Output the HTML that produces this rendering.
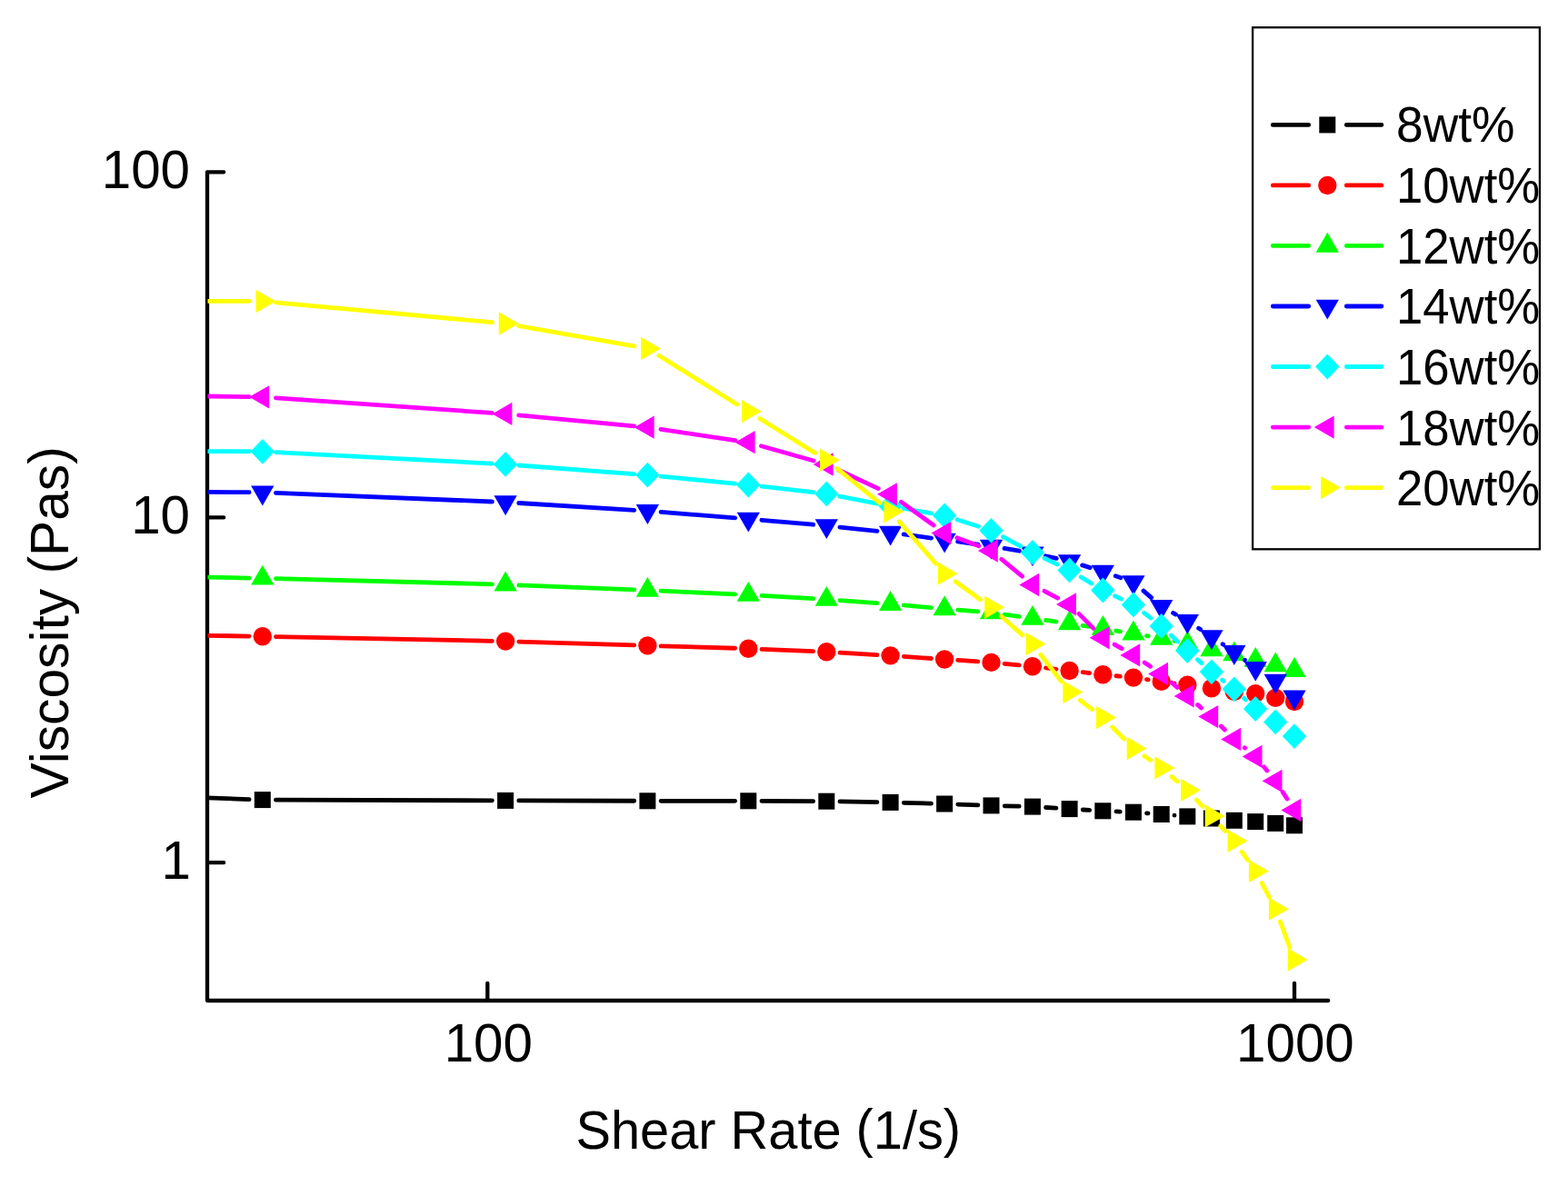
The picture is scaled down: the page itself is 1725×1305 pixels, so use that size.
<!DOCTYPE html>
<html><head><meta charset="utf-8"><title>Viscosity vs Shear Rate</title>
<style>html,body{margin:0;padding:0;background:#fff;}body{width:1725px;height:1305px;overflow:hidden;}svg{display:block;}</style>
</head><body>
<svg width="1725" height="1305" viewBox="0 0 1725 1305">
<rect width="1725" height="1305" fill="#fff"/>
<defs><clipPath id="pc"><rect x="228.5" y="0" width="1500" height="1101"/></clipPath></defs>
<path d="M246.2 189.3L228 189.3L228 1101L1461.2 1101M228 569.4L246.2 569.4M228 949.2L246.2 949.2M536.3 1101L536.3 1081.8M1424 1101L1424 1081.8" fill="none" stroke="#000" stroke-width="4.3" stroke-linecap="round" stroke-linejoin="round"/>
<g clip-path="url(#pc)">
<path d="M188 876.29L274.11 879.54M303.5 880.14L541.4 880.86M570.8 880.94L697.7 881.26M727.1 881.3L808.6 881.3M838 881.37L894.6 881.63M924 881.95L964.9 882.65M994.29 883.3L1024.41 884.1M1053.79 885.04L1075.81 885.86M1105.19 886.79L1121.21 887.21M1150.57 888.5L1161.93 889.2M1191.27 890.98L1198.63 891.42M1227.99 892.91L1232.21 893.09M1261.56 894.79L1263.04 894.91M1292 897.2L1292 897.2" fill="none" stroke="#000000" stroke-width="4.8" stroke-linecap="round"/>
<rect x="279.8" y="871.1" width="18" height="18" fill="#000000"/>
<rect x="547.1" y="871.9" width="18" height="18" fill="#000000"/>
<rect x="703.4" y="872.3" width="18" height="18" fill="#000000"/>
<rect x="814.3" y="872.3" width="18" height="18" fill="#000000"/>
<rect x="900.3" y="872.7" width="18" height="18" fill="#000000"/>
<rect x="970.6" y="873.9" width="18" height="18" fill="#000000"/>
<rect x="1030.1" y="875.5" width="18" height="18" fill="#000000"/>
<rect x="1081.5" y="877.4" width="18" height="18" fill="#000000"/>
<rect x="1126.9" y="878.6" width="18" height="18" fill="#000000"/>
<rect x="1167.6" y="881.1" width="18" height="18" fill="#000000"/>
<rect x="1204.3" y="883.3" width="18" height="18" fill="#000000"/>
<rect x="1237.9" y="884.7" width="18" height="18" fill="#000000"/>
<rect x="1268.7" y="887" width="18" height="18" fill="#000000"/>
<rect x="1297.3" y="889.4" width="18" height="18" fill="#000000"/>
<rect x="1323.9" y="891.5" width="18" height="18" fill="#000000"/>
<rect x="1348.8" y="893.8" width="18" height="18" fill="#000000"/>
<rect x="1372.2" y="895.1" width="18" height="18" fill="#000000"/>
<rect x="1394.2" y="896.9" width="18" height="18" fill="#000000"/>
<rect x="1415" y="899.3" width="18" height="18" fill="#000000"/>
<path d="M188 698.64L274.1 700.06M303.5 700.59L541.4 705.31M570.79 706.05L697.71 709.95M727.09 710.84L808.61 713.26M837.99 714.31L894.61 716.69M923.98 718.16L964.92 720.54M994.27 722.41L1024.43 724.49M1053.77 726.47L1075.83 727.93M1105.13 730.29L1121.27 731.81M1150.5 734.92L1162 736.28M1191.2 739.71L1198.7 740.59M1227.93 743.74L1232.27 744.16M1261.46 747.63L1263.14 747.87M1292 751.8L1292 751.8" fill="none" stroke="#ff0000" stroke-width="4.8" stroke-linecap="round"/>
<circle cx="288.8" cy="700.3" r="10.2" fill="#ff0000"/>
<circle cx="556.1" cy="705.6" r="10.2" fill="#ff0000"/>
<circle cx="712.4" cy="710.4" r="10.2" fill="#ff0000"/>
<circle cx="823.3" cy="713.7" r="10.2" fill="#ff0000"/>
<circle cx="909.3" cy="717.3" r="10.2" fill="#ff0000"/>
<circle cx="979.6" cy="721.4" r="10.2" fill="#ff0000"/>
<circle cx="1039.1" cy="725.5" r="10.2" fill="#ff0000"/>
<circle cx="1090.5" cy="728.9" r="10.2" fill="#ff0000"/>
<circle cx="1135.9" cy="733.2" r="10.2" fill="#ff0000"/>
<circle cx="1176.6" cy="738" r="10.2" fill="#ff0000"/>
<circle cx="1213.3" cy="742.3" r="10.2" fill="#ff0000"/>
<circle cx="1246.9" cy="745.6" r="10.2" fill="#ff0000"/>
<circle cx="1277.7" cy="749.9" r="10.2" fill="#ff0000"/>
<circle cx="1306.3" cy="753.7" r="10.2" fill="#ff0000"/>
<circle cx="1332.9" cy="757.2" r="10.2" fill="#ff0000"/>
<circle cx="1357.8" cy="761" r="10.2" fill="#ff0000"/>
<circle cx="1381.2" cy="763.1" r="10.2" fill="#ff0000"/>
<circle cx="1403.2" cy="767.9" r="10.2" fill="#ff0000"/>
<circle cx="1424" cy="772" r="10.2" fill="#ff0000"/>
<path d="M188 634.48L274.1 636.03M303.5 636.68L541.4 642.82M570.79 643.79L697.71 648.91M727.09 650.16L808.61 653.84M837.98 655.35L894.62 658.65M923.96 660.58L964.94 663.62M994.24 665.98L1024.46 668.62M1053.75 671.07L1075.85 672.83M1105.05 676.08L1121.35 678.42M1150.47 682.47L1162.03 684.03M1191.13 688.26L1198.77 689.44M1227.81 694.03L1232.39 694.77M1261.39 699.59L1263.21 699.91M1292 705.45L1292 705.45" fill="none" stroke="#00ff00" stroke-width="4.8" stroke-linecap="round"/>
<polygon points="288.8,621.7 301.44,643.6 276.16,643.6" fill="#00ff00"/>
<polygon points="556.1,628.6 568.74,650.5 543.46,650.5" fill="#00ff00"/>
<polygon points="712.4,634.9 725.04,656.8 699.76,656.8" fill="#00ff00"/>
<polygon points="823.3,639.9 835.94,661.8 810.66,661.8" fill="#00ff00"/>
<polygon points="909.3,644.9 921.94,666.8 896.66,666.8" fill="#00ff00"/>
<polygon points="979.6,650.1 992.24,672 966.96,672" fill="#00ff00"/>
<polygon points="1039.1,655.3 1051.74,677.2 1026.46,677.2" fill="#00ff00"/>
<polygon points="1090.5,659.4 1103.14,681.3 1077.86,681.3" fill="#00ff00"/>
<polygon points="1135.9,665.9 1148.54,687.8 1123.26,687.8" fill="#00ff00"/>
<polygon points="1176.6,671.4 1189.24,693.3 1163.96,693.3" fill="#00ff00"/>
<polygon points="1213.3,677.1 1225.94,699 1200.66,699" fill="#00ff00"/>
<polygon points="1246.9,682.5 1259.54,704.4 1234.26,704.4" fill="#00ff00"/>
<polygon points="1277.7,687.8 1290.34,709.7 1265.06,709.7" fill="#00ff00"/>
<polygon points="1306.3,693.9 1318.94,715.8 1293.66,715.8" fill="#00ff00"/>
<polygon points="1332.9,700.4 1345.54,722.3 1320.26,722.3" fill="#00ff00"/>
<polygon points="1357.8,705.4 1370.44,727.3 1345.16,727.3" fill="#00ff00"/>
<polygon points="1381.2,711.9 1393.84,733.8 1368.56,733.8" fill="#00ff00"/>
<polygon points="1403.2,717.4 1415.84,739.3 1390.56,739.3" fill="#00ff00"/>
<polygon points="1424,723.1 1436.64,745 1411.36,745" fill="#00ff00"/>
<path d="M188 541.14L274.1 541.7M303.49 542.39L541.41 552.01M570.77 553.51L697.73 561.39M727.05 563.45L808.65 569.85M837.94 572.28L894.66 577.22M923.92 580.06L964.98 584.44M994.17 587.96L1024.53 592.04M1053.67 595.98L1075.93 599.02M1104.99 603.46L1121.41 606.24M1150.27 611.81L1162.23 614.39M1190.63 621.9L1199.27 624.6M1227.21 633.76L1232.99 635.74M1257.99 650.15L1266.61 657.65M1290.55 674.44L1293.45 676.06M1318.6 691.25L1320.6 692.55M1345.11 708.79L1345.59 709.11M1369.48 726.23L1369.52 726.27" fill="none" stroke="#0000ff" stroke-width="4.8" stroke-linecap="round"/>
<polygon points="288.8,556.4 301.44,534.5 276.16,534.5" fill="#0000ff"/>
<polygon points="556.1,567.2 568.74,545.3 543.46,545.3" fill="#0000ff"/>
<polygon points="712.4,576.9 725.04,555 699.76,555" fill="#0000ff"/>
<polygon points="823.3,585.6 835.94,563.7 810.66,563.7" fill="#0000ff"/>
<polygon points="909.3,593.1 921.94,571.2 896.66,571.2" fill="#0000ff"/>
<polygon points="979.6,600.6 992.24,578.7 966.96,578.7" fill="#0000ff"/>
<polygon points="1039.1,608.6 1051.74,586.7 1026.46,586.7" fill="#0000ff"/>
<polygon points="1090.5,615.6 1103.14,593.7 1077.86,593.7" fill="#0000ff"/>
<polygon points="1135.9,623.3 1148.54,601.4 1123.26,601.4" fill="#0000ff"/>
<polygon points="1176.6,632.1 1189.24,610.2 1163.96,610.2" fill="#0000ff"/>
<polygon points="1213.3,643.6 1225.94,621.7 1200.66,621.7" fill="#0000ff"/>
<polygon points="1246.9,655.1 1259.54,633.2 1234.26,633.2" fill="#0000ff"/>
<polygon points="1277.7,681.9 1290.34,660 1265.06,660" fill="#0000ff"/>
<polygon points="1306.3,697.8 1318.94,675.9 1293.66,675.9" fill="#0000ff"/>
<polygon points="1332.9,715.2 1345.54,693.3 1320.26,693.3" fill="#0000ff"/>
<polygon points="1357.8,731.9 1370.44,710 1345.16,710" fill="#0000ff"/>
<polygon points="1381.2,749.8 1393.84,727.9 1368.56,727.9" fill="#0000ff"/>
<polygon points="1403.2,763.7 1415.84,741.8 1390.56,741.8" fill="#0000ff"/>
<polygon points="1424,781.5 1436.64,759.6 1411.36,759.6" fill="#0000ff"/>
<path d="M188 496.47L274.1 496.75M303.48 497.57L541.42 510.13M570.76 512.01L697.74 521.59M727.03 524.12L808.67 532.08M837.9 535.18L894.7 541.72M923.73 546.19L965.17 554.21M994.08 559.51L1024.62 564.79M1053.1 571.79L1076.5 579.31M1103.48 590.69L1122.92 601.01M1149.16 614.25L1163.34 621.05M1189.19 634.98L1200.71 641.92M1226.59 655.79L1233.61 659.11M1258.57 674.34L1266.03 680.06M1288.37 699.11L1295.63 705.99M1317.38 725.76L1321.82 729.64M1344.59 748.22L1346.11 749.38M1368.58 768.3L1370.42 770" fill="none" stroke="#00ffff" stroke-width="4.8" stroke-linecap="round"/>
<polygon points="288.8,482.9 302,496.8 288.8,510.7 275.6,496.8" fill="#00ffff"/>
<polygon points="556.1,497 569.3,510.9 556.1,524.8 542.9,510.9" fill="#00ffff"/>
<polygon points="712.4,508.8 725.6,522.7 712.4,536.6 699.2,522.7" fill="#00ffff"/>
<polygon points="823.3,519.6 836.5,533.5 823.3,547.4 810.1,533.5" fill="#00ffff"/>
<polygon points="909.3,529.5 922.5,543.4 909.3,557.3 896.1,543.4" fill="#00ffff"/>
<polygon points="979.6,543.1 992.8,557 979.6,570.9 966.4,557" fill="#00ffff"/>
<polygon points="1039.1,553.4 1052.3,567.3 1039.1,581.2 1025.9,567.3" fill="#00ffff"/>
<polygon points="1090.5,569.9 1103.7,583.8 1090.5,597.7 1077.3,583.8" fill="#00ffff"/>
<polygon points="1135.9,594 1149.1,607.9 1135.9,621.8 1122.7,607.9" fill="#00ffff"/>
<polygon points="1176.6,613.5 1189.8,627.4 1176.6,641.3 1163.4,627.4" fill="#00ffff"/>
<polygon points="1213.3,635.6 1226.5,649.5 1213.3,663.4 1200.1,649.5" fill="#00ffff"/>
<polygon points="1246.9,651.5 1260.1,665.4 1246.9,679.3 1233.7,665.4" fill="#00ffff"/>
<polygon points="1277.7,675.1 1290.9,689 1277.7,702.9 1264.5,689" fill="#00ffff"/>
<polygon points="1306.3,702.2 1319.5,716.1 1306.3,730 1293.1,716.1" fill="#00ffff"/>
<polygon points="1332.9,725.4 1346.1,739.3 1332.9,753.2 1319.7,739.3" fill="#00ffff"/>
<polygon points="1357.8,744.4 1371,758.3 1357.8,772.2 1344.6,758.3" fill="#00ffff"/>
<polygon points="1381.2,766.1 1394.4,780 1381.2,793.9 1368,780" fill="#00ffff"/>
<polygon points="1403.2,780.5 1416.4,794.4 1403.2,808.3 1390,794.4" fill="#00ffff"/>
<polygon points="1424,796.2 1437.2,810.1 1424,824 1410.8,810.1" fill="#00ffff"/>
<path d="M188 435.47L274.1 436.61M303.46 437.82L541.44 454.38M570.73 456.79L697.77 468.81M726.94 472.36L808.76 484.54M837.45 490.7L895.15 507M922.62 517.22L966.28 537.58M991.53 552.38L1027.17 578.02M1052.85 591.79L1076.75 600.81M1101.83 615.36L1124.57 634.14M1148.91 650.34L1163.59 658.06M1186.97 675.32L1202.93 691.38M1226.08 709.06L1234.12 713.64M1259.12 729.07L1265.48 733.33M1288.88 751.04L1295.12 756.36M1317.48 775.44L1321.72 779.06M1343.32 798.97L1347.38 803.03M1369.21 822.67L1369.79 823.13M1390.51 843.78L1393.89 847.92M1411.19 871.64L1416.01 879.06" fill="none" stroke="#ff00ff" stroke-width="4.8" stroke-linecap="round"/>
<polygon points="274.2,436.8 296.1,424.16 296.1,449.44" fill="#ff00ff"/>
<polygon points="541.5,455.4 563.4,442.76 563.4,468.04" fill="#ff00ff"/>
<polygon points="697.8,470.2 719.7,457.56 719.7,482.84" fill="#ff00ff"/>
<polygon points="808.7,486.7 830.6,474.06 830.6,499.34" fill="#ff00ff"/>
<polygon points="894.7,511 916.6,498.36 916.6,523.64" fill="#ff00ff"/>
<polygon points="965,543.8 986.9,531.16 986.9,556.44" fill="#ff00ff"/>
<polygon points="1024.5,586.6 1046.4,573.96 1046.4,599.24" fill="#ff00ff"/>
<polygon points="1075.9,606 1097.8,593.36 1097.8,618.64" fill="#ff00ff"/>
<polygon points="1121.3,643.5 1143.2,630.86 1143.2,656.14" fill="#ff00ff"/>
<polygon points="1162,664.9 1183.9,652.26 1183.9,677.54" fill="#ff00ff"/>
<polygon points="1198.7,701.8 1220.6,689.16 1220.6,714.44" fill="#ff00ff"/>
<polygon points="1232.3,720.9 1254.2,708.26 1254.2,733.54" fill="#ff00ff"/>
<polygon points="1263.1,741.5 1285,728.86 1285,754.14" fill="#ff00ff"/>
<polygon points="1291.7,765.9 1313.6,753.26 1313.6,778.54" fill="#ff00ff"/>
<polygon points="1318.3,788.6 1340.2,775.96 1340.2,801.24" fill="#ff00ff"/>
<polygon points="1343.2,813.4 1365.1,800.76 1365.1,826.04" fill="#ff00ff"/>
<polygon points="1366.6,832.4 1388.5,819.76 1388.5,845.04" fill="#ff00ff"/>
<polygon points="1388.6,859.3 1410.5,846.66 1410.5,871.94" fill="#ff00ff"/>
<polygon points="1409.4,891.4 1431.3,878.76 1431.3,904.04" fill="#ff00ff"/>
<path d="M188 331.17L274.1 331.45M303.44 332.84L541.46 354.66M570.58 358.55L697.92 380.95M724.87 391.28L810.83 444.92M835.78 460.46L896.82 498.44M920.75 515.42L968.15 553.58M989.25 573.89L1029.45 620.11M1051.02 639.8L1078.58 659.7M1101.49 678.06L1124.91 698.84M1144.85 720.26L1167.65 749.94M1188.3 770.5L1201.6 780.6M1223.63 799.96L1236.57 813.04M1258.97 831.89L1265.63 836.51M1288.86 854.46L1295.14 859.84M1316.33 880.15L1322.87 887.15M1342.79 908.78L1347.91 914.42M1366.25 937.33L1372.75 946.57M1388.07 971.59L1396.33 987.21M1408.33 1013.97L1418.87 1042.23" fill="none" stroke="#ffff00" stroke-width="4.8" stroke-linecap="round"/>
<polygon points="303.4,331.5 281.5,318.86 281.5,344.14" fill="#ffff00"/>
<polygon points="570.7,356 548.8,343.36 548.8,368.64" fill="#ffff00"/>
<polygon points="727,383.5 705.1,370.86 705.1,396.14" fill="#ffff00"/>
<polygon points="837.9,452.7 816,440.06 816,465.34" fill="#ffff00"/>
<polygon points="923.9,506.2 902,493.56 902,518.84" fill="#ffff00"/>
<polygon points="994.2,562.8 972.3,550.16 972.3,575.44" fill="#ffff00"/>
<polygon points="1053.7,631.2 1031.8,618.56 1031.8,643.84" fill="#ffff00"/>
<polygon points="1105.1,668.3 1083.2,655.66 1083.2,680.94" fill="#ffff00"/>
<polygon points="1150.5,708.6 1128.6,695.96 1128.6,721.24" fill="#ffff00"/>
<polygon points="1191.2,761.6 1169.3,748.96 1169.3,774.24" fill="#ffff00"/>
<polygon points="1227.9,789.5 1206,776.86 1206,802.14" fill="#ffff00"/>
<polygon points="1261.5,823.5 1239.6,810.86 1239.6,836.14" fill="#ffff00"/>
<polygon points="1292.3,844.9 1270.4,832.26 1270.4,857.54" fill="#ffff00"/>
<polygon points="1320.9,869.4 1299,856.76 1299,882.04" fill="#ffff00"/>
<polygon points="1347.5,897.9 1325.6,885.26 1325.6,910.54" fill="#ffff00"/>
<polygon points="1372.4,925.3 1350.5,912.66 1350.5,937.94" fill="#ffff00"/>
<polygon points="1395.8,958.6 1373.9,945.96 1373.9,971.24" fill="#ffff00"/>
<polygon points="1417.8,1000.2 1395.9,987.56 1395.9,1012.84" fill="#ffff00"/>
<polygon points="1438.6,1056 1416.7,1043.36 1416.7,1068.64" fill="#ffff00"/>
</g>
<text x="209" y="207.3" font-family="'Liberation Sans', Arial, sans-serif" font-size="58.3" text-anchor="end" >100</text>
<text x="209" y="587.2" font-family="'Liberation Sans', Arial, sans-serif" font-size="58.3" text-anchor="end" >10</text>
<text x="210" y="966.8" font-family="'Liberation Sans', Arial, sans-serif" font-size="58.3" text-anchor="end" >1</text>
<text x="537.3" y="1167.6" font-family="'Liberation Sans', Arial, sans-serif" font-size="58.3" text-anchor="middle" >100</text>
<text x="1424.9" y="1167.6" font-family="'Liberation Sans', Arial, sans-serif" font-size="58.3" text-anchor="middle" >1000</text>
<text x="633.5" y="1264.2" font-family="'Liberation Sans', Arial, sans-serif" font-size="58.5" text-anchor="start" textLength="423.6" lengthAdjust="spacingAndGlyphs">Shear Rate <tspan dy="-2.6">(</tspan><tspan dy="2.6">1/s</tspan><tspan dy="-2.6">)</tspan></text>
<text transform="translate(74.8 878.4) rotate(-90)" x="0" y="0" font-family="'Liberation Sans', Arial, sans-serif" font-size="59" textLength="387.1" lengthAdjust="spacingAndGlyphs">Viscosity <tspan dy="-2">(</tspan><tspan dy="2">Pas</tspan><tspan dy="-2">)</tspan></text>
<rect x="1378.1" y="30.2" width="315.8" height="574.1" fill="none" stroke="#000" stroke-width="2.3"/>
<path d="M1400.3 137.4L1439.7 137.4M1481.3 137.4L1519.9 137.4" stroke="#000000" stroke-width="4.8" stroke-linecap="round"/>
<rect x="1451.3" y="128.4" width="18" height="18" fill="#000000"/>
<text x="1536" y="156.2" font-family="'Liberation Sans', Arial, sans-serif" font-size="55.2" text-anchor="start" textLength="130.5" lengthAdjust="spacingAndGlyphs">8wt%</text>
<path d="M1400.3 203.93L1439.7 203.93M1481.3 203.93L1519.9 203.93" stroke="#ff0000" stroke-width="4.8" stroke-linecap="round"/>
<circle cx="1460.3" cy="203.93" r="10.2" fill="#ff0000"/>
<text x="1536" y="222.88" font-family="'Liberation Sans', Arial, sans-serif" font-size="55.2" text-anchor="start" textLength="158.2" lengthAdjust="spacingAndGlyphs">10wt%</text>
<path d="M1400.3 270.46L1439.7 270.46M1481.3 270.46L1519.9 270.46" stroke="#00ff00" stroke-width="4.8" stroke-linecap="round"/>
<polygon points="1460.3,255.86 1472.94,277.76 1447.66,277.76" fill="#00ff00"/>
<text x="1536" y="289.56" font-family="'Liberation Sans', Arial, sans-serif" font-size="55.2" text-anchor="start" textLength="158.2" lengthAdjust="spacingAndGlyphs">12wt%</text>
<path d="M1400.3 336.99L1439.7 336.99M1481.3 336.99L1519.9 336.99" stroke="#0000ff" stroke-width="4.8" stroke-linecap="round"/>
<polygon points="1460.3,351.59 1472.94,329.69 1447.66,329.69" fill="#0000ff"/>
<text x="1536" y="356.24" font-family="'Liberation Sans', Arial, sans-serif" font-size="55.2" text-anchor="start" textLength="158.2" lengthAdjust="spacingAndGlyphs">14wt%</text>
<path d="M1400.3 403.52L1439.7 403.52M1481.3 403.52L1519.9 403.52" stroke="#00ffff" stroke-width="4.8" stroke-linecap="round"/>
<polygon points="1460.3,389.62 1473.5,403.52 1460.3,417.42 1447.1,403.52" fill="#00ffff"/>
<text x="1536" y="422.92" font-family="'Liberation Sans', Arial, sans-serif" font-size="55.2" text-anchor="start" textLength="158.2" lengthAdjust="spacingAndGlyphs">16wt%</text>
<path d="M1400.3 470.05L1439.7 470.05M1481.3 470.05L1519.9 470.05" stroke="#ff00ff" stroke-width="4.8" stroke-linecap="round"/>
<polygon points="1445.7,470.05 1467.6,457.41 1467.6,482.69" fill="#ff00ff"/>
<text x="1536" y="489.6" font-family="'Liberation Sans', Arial, sans-serif" font-size="55.2" text-anchor="start" textLength="158.2" lengthAdjust="spacingAndGlyphs">18wt%</text>
<path d="M1400.3 536.58L1439.7 536.58M1481.3 536.58L1519.9 536.58" stroke="#ffff00" stroke-width="4.8" stroke-linecap="round"/>
<polygon points="1474.9,536.58 1453,523.94 1453,549.22" fill="#ffff00"/>
<text x="1536" y="556.28" font-family="'Liberation Sans', Arial, sans-serif" font-size="55.2" text-anchor="start" textLength="158.2" lengthAdjust="spacingAndGlyphs">20wt%</text>
</svg>
</body></html>
